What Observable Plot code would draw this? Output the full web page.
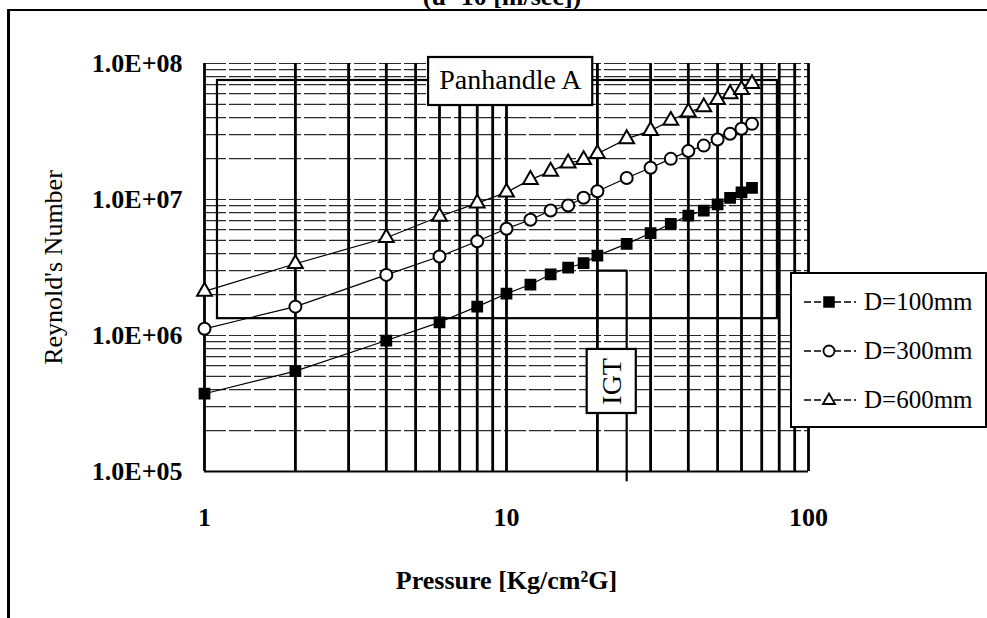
<!DOCTYPE html>
<html>
<head>
<meta charset="utf-8">
<script src="https://cdn.jsdelivr.net/npm/d3@7"></script>
<script src="https://cdn.jsdelivr.net/npm/@observablehq/plot@0.6"></script>
<style>
  html, body { margin: 0; padding: 0; background: #fff; }
  #wrap { position: relative; width: 987px; height: 618px; overflow: hidden; background: #fff;
          font-family: "Liberation Serif", "DejaVu Serif", serif; }
  #frame { position: absolute; left: 7px; top: 9px; width: 990px; height: 620px;
           border-left: 3px solid #000; border-top: 2px solid #000; pointer-events: none; }
  #title { position: absolute; left: 0; width: 1004px; top: -16px; text-align: center;
           font-size: 26px; line-height: 26px; font-weight: bold; color: #000; }
  #legend { position: absolute; left: 790px; top: 272px; width: 193px; height: 152px;
            border: 2px solid #000; background: #fff; }
  .item { position: absolute; left: 0; height: 40px; width: 193px; }
  .item svg { position: absolute; left: 12px; top: 0; }
  .item span { position: absolute; left: 72px; top: 6px; font-size: 25px; line-height: 28px; color: #000; }
</style>
</head>
<body>
<div id="wrap">
  <div id="chart"></div>
  <div id="frame"></div>
  <div id="title">(u=10 [m/sec])</div>
  <div id="legend"></div>
</div>
<script>
// ---- data ----
const pressure = [1, 2, 4, 6, 8, 10, 12, 14, 16, 18, 20, 25, 30, 35, 40, 45, 50, 55, 60, 65];
const re100 = [3.73e5, 5.47e5, 9.18e5, 1.25e6, 1.63e6, 2.03e6, 2.37e6, 2.81e6, 3.15e6, 3.40e6,
               3.87e6, 4.72e6, 5.65e6, 6.63e6, 7.62e6, 8.30e6, 9.19e6, 1.03e7, 1.13e7, 1.22e7];
const re300 = [1.12e6, 1.63e6, 2.79e6, 3.81e6, 4.93e6, 6.10e6, 7.10e6, 8.30e6, 9.04e6, 1.03e7,
               1.15e7, 1.44e7, 1.71e7, 1.99e7, 2.27e7, 2.49e7, 2.76e7, 3.04e7, 3.31e7, 3.60e7];
const re600 = [2.11e6, 3.37e6, 5.23e6, 7.50e6, 9.40e6, 1.13e7, 1.40e7, 1.61e7, 1.85e7, 1.96e7,
               2.17e7, 2.79e7, 3.21e7, 3.81e7, 4.39e7, 4.78e7, 5.41e7, 5.98e7, 6.41e7, 7.10e7];
const seriesNames = ["D=100mm", "D=300mm", "D=600mm"];
const xTicks = [1, 10, 100];
const yTicks = [1e5, 1e6, 1e7, 1e8];
const xLabel = "Pressure [Kg/cm\u00B2G]";
const yLabel = "Reynold's Number";
// annotations (data coordinates)
const annoLabels = [
  {text: "Panhandle A", x: 10.3, y: 7.6e7, rotate: 0},
  {text: "IGT", x: 22.3, y: 4.6e5, rotate: -90}
];
const annoBoxes = [
  {x1: 5.52, x2: 19.3, y1: 4.91e7, y2: 1.107e8},
  {x1: 18.5, x2: 26.9, y1: 2.67e5, y2: 7.9e5}
];
const calloutRect = [{x1: 1.104, x2: 78.9, y1: 1.33e6, y2: 7.5e7}];
const igtBracket = [{x: 20, y: 3.0e6}, {x: 25, y: 3.0e6}, {x: 25, y: 8.6e4}];

// ---- build ----
const styles = [
  {symbol: "square", fill: "black", r: 5.5},
  {symbol: "circle", fill: "white", r: 6},
  {symbol: "triangle", fill: "white", r: 5.5}
];
const valuesBy = [re100, re300, re600];
const rows = seriesNames.flatMap((name, k) => pressure.map((p, i) => ({p, re: valuesBy[k][i], name})));

const xGrid = [];
for (const d of [1, 10]) for (let m = 1; m <= 9; m++) xGrid.push(m * d);
xGrid.push(100);
const yGrid = [];
for (const d of [1e5, 1e6, 1e7]) for (let m = 2; m <= 9; m++) yGrid.push(m * d);
yGrid.push(1e6, 1e7, 1e8);

const fmtY = d => "1.0E+" + String(Math.round(Math.log10(d))).padStart(2, "0");

const chart = Plot.plot({
  width: 987, height: 618,
  marginLeft: 204, marginRight: 179, marginTop: 63, marginBottom: 147,
  x: {type: "log", domain: [1, 100]},
  y: {type: "log", domain: [1e5, 1e8]},
  style: {fontFamily: "Liberation Serif", background: "white", color: "black", overflow: "visible"},
  marks: [
    Plot.ruleY(yGrid, {stroke: "#2a2a2a", strokeWidth: 1.2, strokeDasharray: "22,3"}),
    Plot.ruleX(xGrid, {stroke: "black", strokeWidth: 2.8}),
    Plot.ruleY([1e5], {stroke: "black", strokeWidth: 2}),
    Plot.rect(calloutRect, {x1: "x1", x2: "x2", y1: "y1", y2: "y2", fill: "none", stroke: "black", strokeWidth: 2.2}),
    Plot.line(igtBracket, {x: "x", y: "y", stroke: "black", strokeWidth: 2.2}),
    Plot.line(rows, {x: "p", y: "re", z: "name", stroke: "black", strokeWidth: 1.2}),
    ...seriesNames.map((name, k) => Plot.dot(rows.filter(r => r.name === name), {
      x: "p", y: "re", symbol: () => styles[k].symbol, r: styles[k].r,
      fill: styles[k].fill, stroke: "black", strokeWidth: 2
    })),
    Plot.rect(annoBoxes, {x1: "x1", x2: "x2", y1: "y1", y2: "y2", fill: "white", stroke: "black", strokeWidth: 2.2}),
    Plot.text(annoLabels.filter(a => a.rotate === 0), {x: "x", y: "y", text: "text", fontSize: 28, fill: "black"}),
    Plot.text(annoLabels.filter(a => a.rotate !== 0), {x: "x", y: "y", text: "text", fontSize: 28, rotate: -90, fill: "black"}),
    Plot.axisX({ticks: xTicks, tickSize: 0, tickPadding: 36, tickFormat: d => String(d),
      fontSize: 26, fontWeight: "bold", label: null}),
    Plot.axisY({ticks: yTicks, tickSize: 0, tickPadding: 22, tickFormat: fmtY,
      fontSize: 26, fontWeight: "bold", label: null}),
    Plot.text([xLabel], {frameAnchor: "bottom", dy: 109, lineAnchor: "middle", text: d => d,
      fontSize: 26, fontWeight: "bold", fill: "black"}),
    Plot.text([yLabel], {frameAnchor: "left", dx: -151, rotate: -90, textAnchor: "middle", text: d => d,
      fontSize: 26, fill: "black"})
  ]
});
document.getElementById("chart").appendChild(chart);

// ---- legend ----
const legend = document.getElementById("legend");
seriesNames.forEach((name, k) => {
  const item = document.createElement("div");
  item.className = "item";
  item.style.top = (8 + k * 49) + "px";
  const s = styles[k];
  let sym;
  if (s.symbol === "square") sym = '<rect x="20" y="15" width="10" height="10" fill="black" stroke="black" stroke-width="1.5"/>';
  else if (s.symbol === "circle") sym = '<circle cx="25" cy="20" r="5.5" fill="white" stroke="black" stroke-width="1.8"/>';
  else sym = '<path d="M25,13.5 L31,24 L19,24 Z" fill="white" stroke="black" stroke-width="1.8"/>';
  item.innerHTML = '<svg width="52" height="40"><line x1="0" y1="20" x2="52" y2="20" stroke="black" stroke-width="1.3" stroke-dasharray="7,3"/>' + sym + '</svg><span>' + name + '</span>';
  legend.appendChild(item);
});
</script>
</body>
</html>
